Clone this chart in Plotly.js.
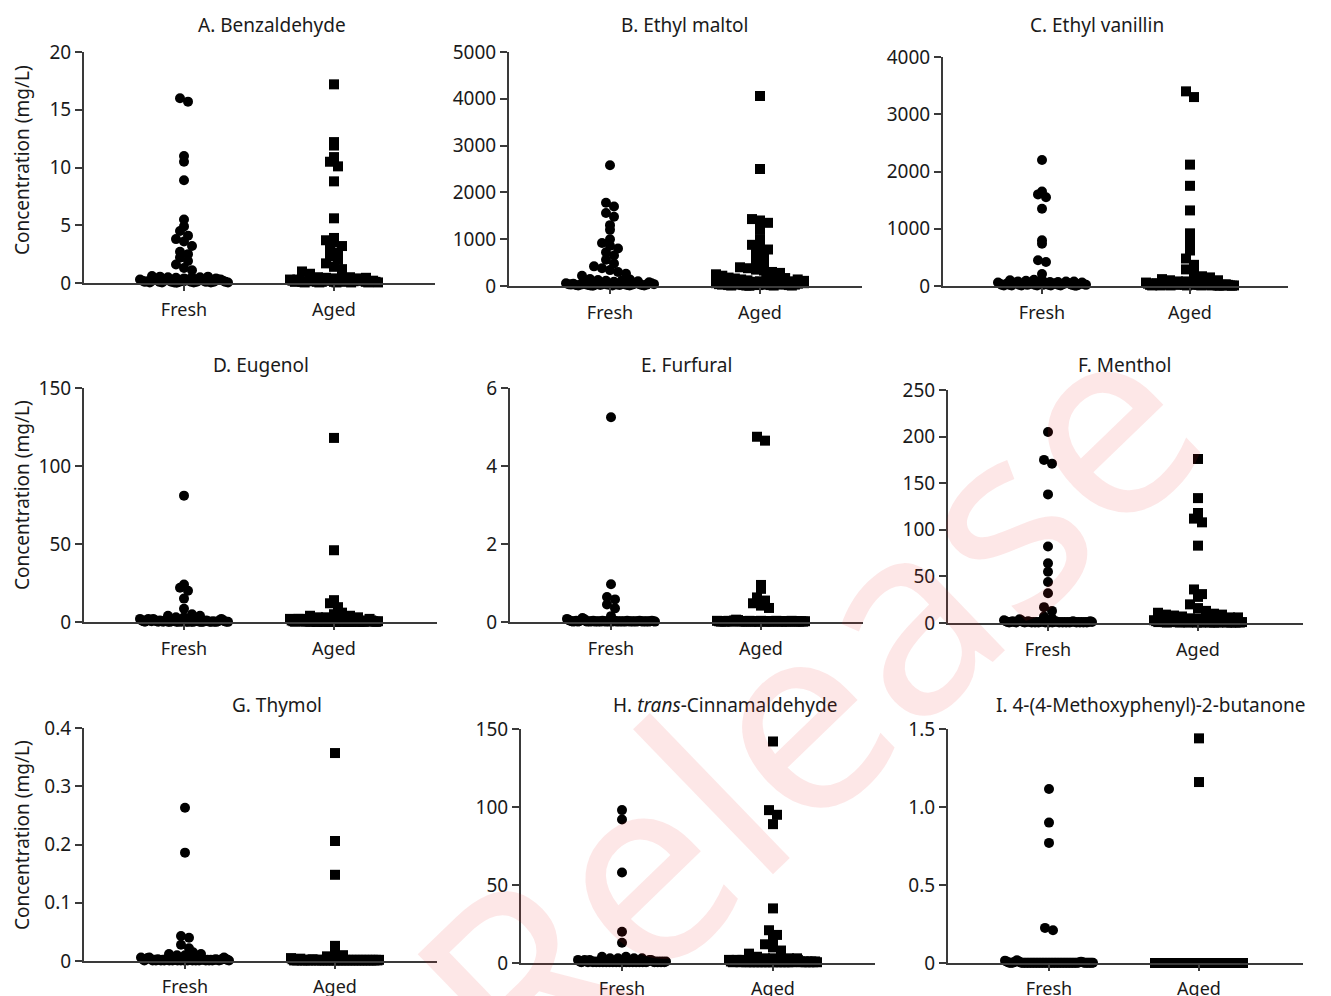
<!DOCTYPE html>
<html><head><meta charset="utf-8">
<script src="https://cdn.plot.ly/plotly-3.0.1.min.js"></script>
<style>body{margin:0;background:#fff}#chart{width:1331px;height:996px}</style>
</head><body><div id="chart"></div>
<script>
// ---------------- DATA ----------------
const categories = ['Fresh', 'Aged'];
const panelTitles = ['A. Benzaldehyde', 'B. Ethyl maltol', 'C. Ethyl vanillin',
  'D. Eugenol', 'E. Furfural', 'F. Menthol',
  'G. Thymol', 'H. <i>trans</i>-Cinnamaldehyde', 'I. 4-(4-Methoxyphenyl)-2-butanone'];
const yAxisTitle = 'Concentration (mg/L)';
const yMax = [20, 5000, 4000, 150, 6, 250, 0.4, 150, 1.5];
const yTickVals = [[0,5,10,15,20],[0,1000,2000,3000,4000,5000],[0,1000,2000,3000,4000],
  [0,50,100,150],[0,2,4,6],[0,50,100,150,200,250],[0,0.1,0.2,0.3,0.4],[0,50,100,150],[0,0.5,1.0,1.5]];
const yTickText = [['0','5','10','15','20'],['0','1000','2000','3000','4000','5000'],['0','1000','2000','3000','4000'],
  ['0','50','100','150'],['0','2','4','6'],['0','50','100','150','200','250'],['0','0.1','0.2','0.3','0.4'],['0','50','100','150'],['0','0.5','1.0','1.5']];

const benzaldehydeFresh = [16.0,15.7,11.0,10.5,8.9,5.5,4.9,4.5,4.1,3.8,3.6,3.2,2.7,2.5,2.2,1.9,1.6,1.3,1.1,
  0.6,0.55,0.5,0.3,0.2,0.1,0.15,0.05,0.2,0.3,0.25,0.1,0.05,0.45,0.2,0.3,0.2,0.1,0.05,0.02,0.1,0.2,0.15,0.3,0.2,0.1,0.05,0.1,0.2,0.3,0.4,0.5,0.2,0.1,0.15,0.05,0.1,0.2,0.3,0.5,0.55,0.4,0.3,0.2,0.1,0.05];
const benzaldehydeAged = [17.2,12.2,11.9,10.9,10.5,10.1,8.8,5.6,3.9,3.7,3.5,3.2,2.9,2.6,2.3,2.0,1.7,1.4,1.2,1.0,0.8,
  0.5,0.45,0.3,0.2,0.1,0.3,0.2,0.1,0.05,0.15,0.25,0.3,0.2,0.1,0.05,0.1,0.2,0.3,0.4,0.6,0.5,0.3,0.2,0.1,0.05,0.1,0.2,0.3,0.2,0.1,0.05,0.15,0.2,0.3,0.4,0.45,0.3,0.2,0.1,0.05,0.1,0.2,0.1,0.05];
const ethylMaltolFresh = [2580,1780,1700,1560,1480,1300,1200,1000,920,860,800,720,650,560,480,420,380,340,300,260,220,
  150,130,110,90,60,40,30,50,20,10,30,60,40,20,10,5,30,50,20,40,60,30,20,10,50,30,20,60,40,20,10,30,50,70,40,20,10,30,120,140,100,80,60,40];
const ethylMaltolAged = [4060,2500,1430,1400,1350,1200,1000,880,820,780,700,620,550,450,400,380,350,330,300,280,250,220,
  180,160,140,120,90,60,40,30,50,20,10,30,60,100,130,40,20,10,5,30,50,20,40,60,30,20,10,50,30,120,150,170,100,60,40,20,10,30,50,140,110,80,60];
const ethylVanillinFresh = [2200,1650,1600,1550,1350,800,740,450,420,210,
  100,80,60,40,20,10,30,50,20,10,40,60,90,110,100,70,40,20,10,30,50,20,40,60,30,20,10,50,30,20,60,40,20,10,30,50,70,40,20,10,30,40,60,80,50,30,20,10,5,20,40,60,80,30,20];
const ethylVanillinAged = [3400,3300,2120,1750,1320,920,860,700,620,480,370,290,220,
  120,100,80,60,40,20,10,30,50,20,10,40,60,80,120,170,150,100,40,20,10,30,50,20,40,60,30,20,10,50,30,20,60,40,20,10,30,50,40,20,10,30,20,10,5,20,10,30,20,10,5,10];
const eugenolFresh = [81,24,22,20,15,8.5,
  4,3,2,1,0.5,0.2,1,2,1,0.5,3,5,4,2,1,0.5,0.2,1,0.5,0.2,1,0.5,0.2,0.1,0.5,1,0.5,0.2,0.1,0.5,0.2,1,0.5,0.2,0.1,0.5,0.2,0.1,0.5,1,0.5,0.2,0.1,0.2,0.5,1,0.5,0.2,0.1,0.5,0.2,0.1,0.5,1,2,1,0.5,0.2,0.1];
const eugenolAged = [118,46,14,12,9.5,
  4,3,2,1,0.5,0.2,1,2,3,5,6,4,2,1,0.5,0.2,1,0.5,0.2,1,0.5,0.2,0.1,0.5,1,0.5,0.2,0.1,0.5,0.2,1,0.5,0.2,0.1,0.5,0.2,0.1,0.5,1,0.5,0.2,0.1,0.2,0.5,1,0.5,0.2,0.1,0.5,0.2,0.1,0.5,1,2,3,1,0.5,0.2,0.1,0.5];
const furfuralFresh = [5.25,0.97,0.64,0.58,0.45,0.35,
  0.08,0.05,0.03,0.02,0.01,0.02,0.03,0.01,0.02,0.05,0.1,0.15,0.08,0.03,0.01,0.02,0.01,0.02,0.03,0.01,0.02,0.01,0.02,0.01,0.03,0.02,0.01,0.02,0.01,0.02,0.01,0.02,0.03,0.01,0.02,0.01,0.02,0.01,0.02,0.01,0.03,0.02,0.01,0.02,0.01,0.02,0.01,0.02,0.03,0.02,0.01,0.02,0.01,0.02,0.01,0.02,0.03,0.02,0.01];
const furfuralAged = [4.75,4.65,0.95,0.85,0.63,0.55,0.48,0.42,0.36,
  0.03,0.02,0.01,0.02,0.01,0.02,0.03,0.02,0.01,0.04,0.06,0.05,0.02,0.01,0.02,0.01,0.02,0.03,0.01,0.02,0.01,0.02,0.01,0.03,0.02,0.01,0.02,0.01,0.02,0.01,0.02,0.03,0.01,0.02,0.01,0.02,0.01,0.02,0.01,0.03,0.02,0.01,0.02,0.01,0.02,0.01,0.02];
const mentholFresh = [205,175,171,138,82,64,55,44,32,17,13,
  3,2,1,0.5,1,2,1,0.5,2,4,7,5,3,1,0.5,1,2,1,0.5,1,0.5,1,0.5,1,2,1,0.5,1,0.5,1,0.5,1,2,1,0.5,1,0.5,1,0.5,1,0.5,1,2,1,0.5,1,0.5,1,0.5,1,0.5,1,2,1];
const mentholAged = [176,134,118,112,108,83,36,31,28,20,16,13,11,
  9,8,7,5,3,2,1,3,5,8,10,9,6,3,1,0.5,1,2,4,6,3,1,0.5,1,2,1,0.5,1,2,1,0.5,1,0.5,1,2,1,0.5,1,0.5,1,0.5,1,2,1,0.5,1,0.5,1,0.5,1,0.5,1];
const thymolFresh = [0.263,0.186,0.043,0.040,0.028,0.022,
  0.012,0.01,0.006,0.003,0.001,0.003,0.005,0.01,0.015,0.012,0.006,0.003,0.001,0.002,0.001,0.003,0.002,0.001,0.002,0.001,0.003,0.002,0.001,0.002,0.001,0.002,0.003,0.001,0.002,0.001,0.002,0.001,0.002,0.001,0.003,0.002,0.001,0.002,0.001,0.002,0.001,0.002,0.003,0.002,0.001,0.002,0.001,0.002,0.001,0.002,0.003,0.002,0.001,0.002,0.004,0.006,0.004,0.002,0.001];
const thymolAged = [0.357,0.206,0.148,0.026,
  0.005,0.003,0.001,0.002,0.001,0.003,0.008,0.013,0.01,0.004,0.001,0.002,0.001,0.002,0.001,0.002,0.001,0.003,0.002,0.001,0.002,0.001,0.002,0.001,0.002,0.001,0.002,0.001,0.002,0.001,0.002,0.001,0.002,0.001,0.002,0.001,0.002,0.001,0.002,0.001,0.002,0.001,0.002,0.001,0.002,0.001,0.002,0.001,0.002,0.001,0.002,0.001,0.002,0.001,0.002,0.001,0.002,0.001,0.002,0.001,0.002];
const cinnamaldehydeFresh = [98,92,58,20,13,
  4,3,2,1,0.5,1,2,1,0.5,2,3,4,3,1,0.5,1,0.5,1,0.5,1,0.5,1,0.5,1,0.5,1,0.5,1,0.5,1,0.5,1,0.5,1,0.5,1,0.5,1,0.5,1,0.5,1,0.5,1,0.5,1,0.5,1,2,3,2,1,0.5,1,0.5,1,0.5,1,0.5,1];
const cinnamaldehydeAged = [142,98,95,89,35,21,18,15,12,10,8,6,
  4,3,2,1,0.5,1,2,1,0.5,2,3,4,3,1,0.5,1,0.5,1,0.5,1,0.5,1,0.5,1,0.5,1,0.5,1,0.5,1,0.5,1,0.5,1,0.5,1,0.5,1,0.5,1,2,3,2,1,0.5,1,0.5,1,0.5,1,0.5,1,0.5];
const methoxyphenylbutanoneFresh = [1.115,0.90,0.77,0.225,0.21,
  0.015,0.01,0.005,0.002,0.001,0.002,0.005,0.01,0.018,0.012,0.005,0.002,0.001,0.002,0.001,0.002,0.001,0.002,0.001,0.002,0.001,0.002,0.001,0.002,0.001,0.002,0.001,0.002,0.001,0.002,0.001,0.002,0.001,0.002,0.001,0.002,0.001,0.002,0.001,0.002,0.001,0.002,0.001,0.002,0.001,0.002,0.001,0.002,0.001,0.002,0.005,0.008,0.005,0.002,0.001,0.002,0.001,0.002,0.001,0.002];
const methoxyphenylbutanoneAged = [1.44,1.16,
  0,0,0,0,0,0,0,0,0,0,0,0,0,0,0,0,0,0,0,0,0,0,0,0,0,0,0,0,0,0,0,0,0,0,0,0,0,0,0,0,0,0,0,0,0,0,0,0,0,0,0,0,0,0,0,0,0,0,0,0,0,0,0];

const freshSeries = [benzaldehydeFresh, ethylMaltolFresh, ethylVanillinFresh, eugenolFresh, furfuralFresh, mentholFresh, thymolFresh, cinnamaldehydeFresh, methoxyphenylbutanoneFresh];
const agedSeries = [benzaldehydeAged, ethylMaltolAged, ethylVanillinAged, eugenolAged, furfuralAged, mentholAged, thymolAged, cinnamaldehydeAged, methoxyphenylbutanoneAged];

// ---------------- LAYOUT GEOMETRY (pixels) ----------------
const W = 1331, H = 996;
const geom = {
  x0:   [84, 509, 943, 84, 510, 948, 84, 521, 948],
  x1:   [435, 862, 1288, 437, 863, 1303, 437, 875, 1303],
  top:  [52, 52, 57, 388, 388, 390, 728, 729, 729],
  bot:  [283, 286, 286, 622, 622, 623, 961, 963, 963],
  fresh:[184, 610, 1042, 184, 611, 1048, 185, 622, 1049],
  aged: [334, 760, 1190, 334, 761, 1198, 335, 773, 1199],
  titleX: [272, 684, 1097, 261, 686, 1124, 277, 725, 1150],
  titleY: [25, 25, 25, 365, 365, 365, 705, 705, 705],
  labelStandoff: [3, 3, 3, 3, 3, 3, 2, 2, 2]
};
const yTitleGeom = {x: 22, y: [160, 495, 835]};

// beeswarm: bin by pixel height, spread horizontally, compress wide rows
function swarmOffsets(vals, pxPerY, pxPerX) {
  const bh = 8, maxHalf = 44, sp = 8;
  const bins = new Map();
  vals.forEach((v, i) => {
    const b = Math.round(v * pxPerY / bh);
    if (!bins.has(b)) bins.set(b, []);
    bins.get(b).push(i);
  });
  const off = new Array(vals.length).fill(0);
  bins.forEach(idx => {
    const n = idx.length;
    const s = n > 1 ? Math.min(sp, 2 * maxHalf / (n - 1)) : 0;
    idx.forEach((k, j) => { off[k] = ((j - (n - 1) / 2) * s) / pxPerX; });
  });
  return off;
}

const traces = [];
const layout = {
  width: W, height: H, margin: {l: 0, r: 0, t: 0, b: 0},
  paper_bgcolor: '#fff', plot_bgcolor: 'rgba(0,0,0,0)', showlegend: false,
  font: {family: '"Noto Sans", "Open Sans", sans-serif', color: '#1a1a1a', size: 18},
  annotations: []
};
const lineCol = '#3a3a3a';

for (let i = 0; i < 9; i++) {
  const s = i === 0 ? '' : String(i + 1);
  const pxPerX = geom.aged[i] - geom.fresh[i];
  const xr = [(geom.x0[i] - geom.fresh[i]) / pxPerX, 1 + (geom.x1[i] - geom.aged[i]) / pxPerX];
  const pxPerY = (geom.bot[i] - geom.top[i]) / yMax[i];
  [freshSeries[i], agedSeries[i]].forEach((vals, g) => {
    const off = swarmOffsets(vals, pxPerY, pxPerX);
    traces.push({
      type: 'scatter', mode: 'markers', xaxis: 'x' + s, yaxis: 'y' + s,
      x: vals.map((v, k) => g + off[k]), y: vals,
      cliponaxis: false, hoverinfo: 'y', name: categories[g],
      marker: {symbol: g === 0 ? 'circle' : 'square', size: 10, color: '#000', line: {width: 0}}
    });
  });
  layout['xaxis' + s] = {
    domain: [geom.x0[i] / W, geom.x1[i] / W], range: xr, anchor: 'y' + s,
    showline: true, linecolor: lineCol, linewidth: 2, ticks: 'outside', ticklen: 6, tickwidth: 2, tickcolor: lineCol,
    tickvals: [0, 1], ticktext: categories, showgrid: false, zeroline: false,
    tickfont: {size: 18, color: '#1a1a1a'}, ticklabelstandoff: geom.labelStandoff[i], fixedrange: true
  };
  layout['yaxis' + s] = {
    domain: [(H - geom.bot[i]) / H, (H - geom.top[i]) / H], range: [0, yMax[i]], anchor: 'x' + s,
    showline: true, linecolor: lineCol, linewidth: 2, ticks: 'outside', ticklen: 7, tickwidth: 2, tickcolor: lineCol,
    tickvals: yTickVals[i], ticktext: yTickText[i], showgrid: false, zeroline: false,
    tickfont: {size: 19, color: '#1a1a1a'}, fixedrange: true
  };
  layout.annotations.push({
    text: panelTitles[i], xref: 'paper', yref: 'paper', x: geom.titleX[i] / W, y: 1 - geom.titleY[i] / H,
    xanchor: 'center', yanchor: 'middle', showarrow: false, font: {size: 19, color: '#1a1a1a'}
  });
}
yTitleGeom.y.forEach(yy => layout.annotations.push({
  text: yAxisTitle, xref: 'paper', yref: 'paper', x: yTitleGeom.x / W, y: 1 - yy / H,
  xanchor: 'center', yanchor: 'middle', textangle: -90, showarrow: false, font: {size: 19, color: '#1a1a1a'}
}));
// watermark
layout.annotations.push({
  text: 'Release', xref: 'paper', yref: 'paper', x: 803 / W, y: 1 - 702 / H,
  xanchor: 'center', yanchor: 'middle', textangle: -44, showarrow: false,
  font: {size: 265, color: 'rgba(240,40,40,0.11)', family: '"Noto Sans", sans-serif'}
});

Plotly.newPlot('chart', traces, layout, {staticPlot: true, displayModeBar: false});
</script></body></html>
